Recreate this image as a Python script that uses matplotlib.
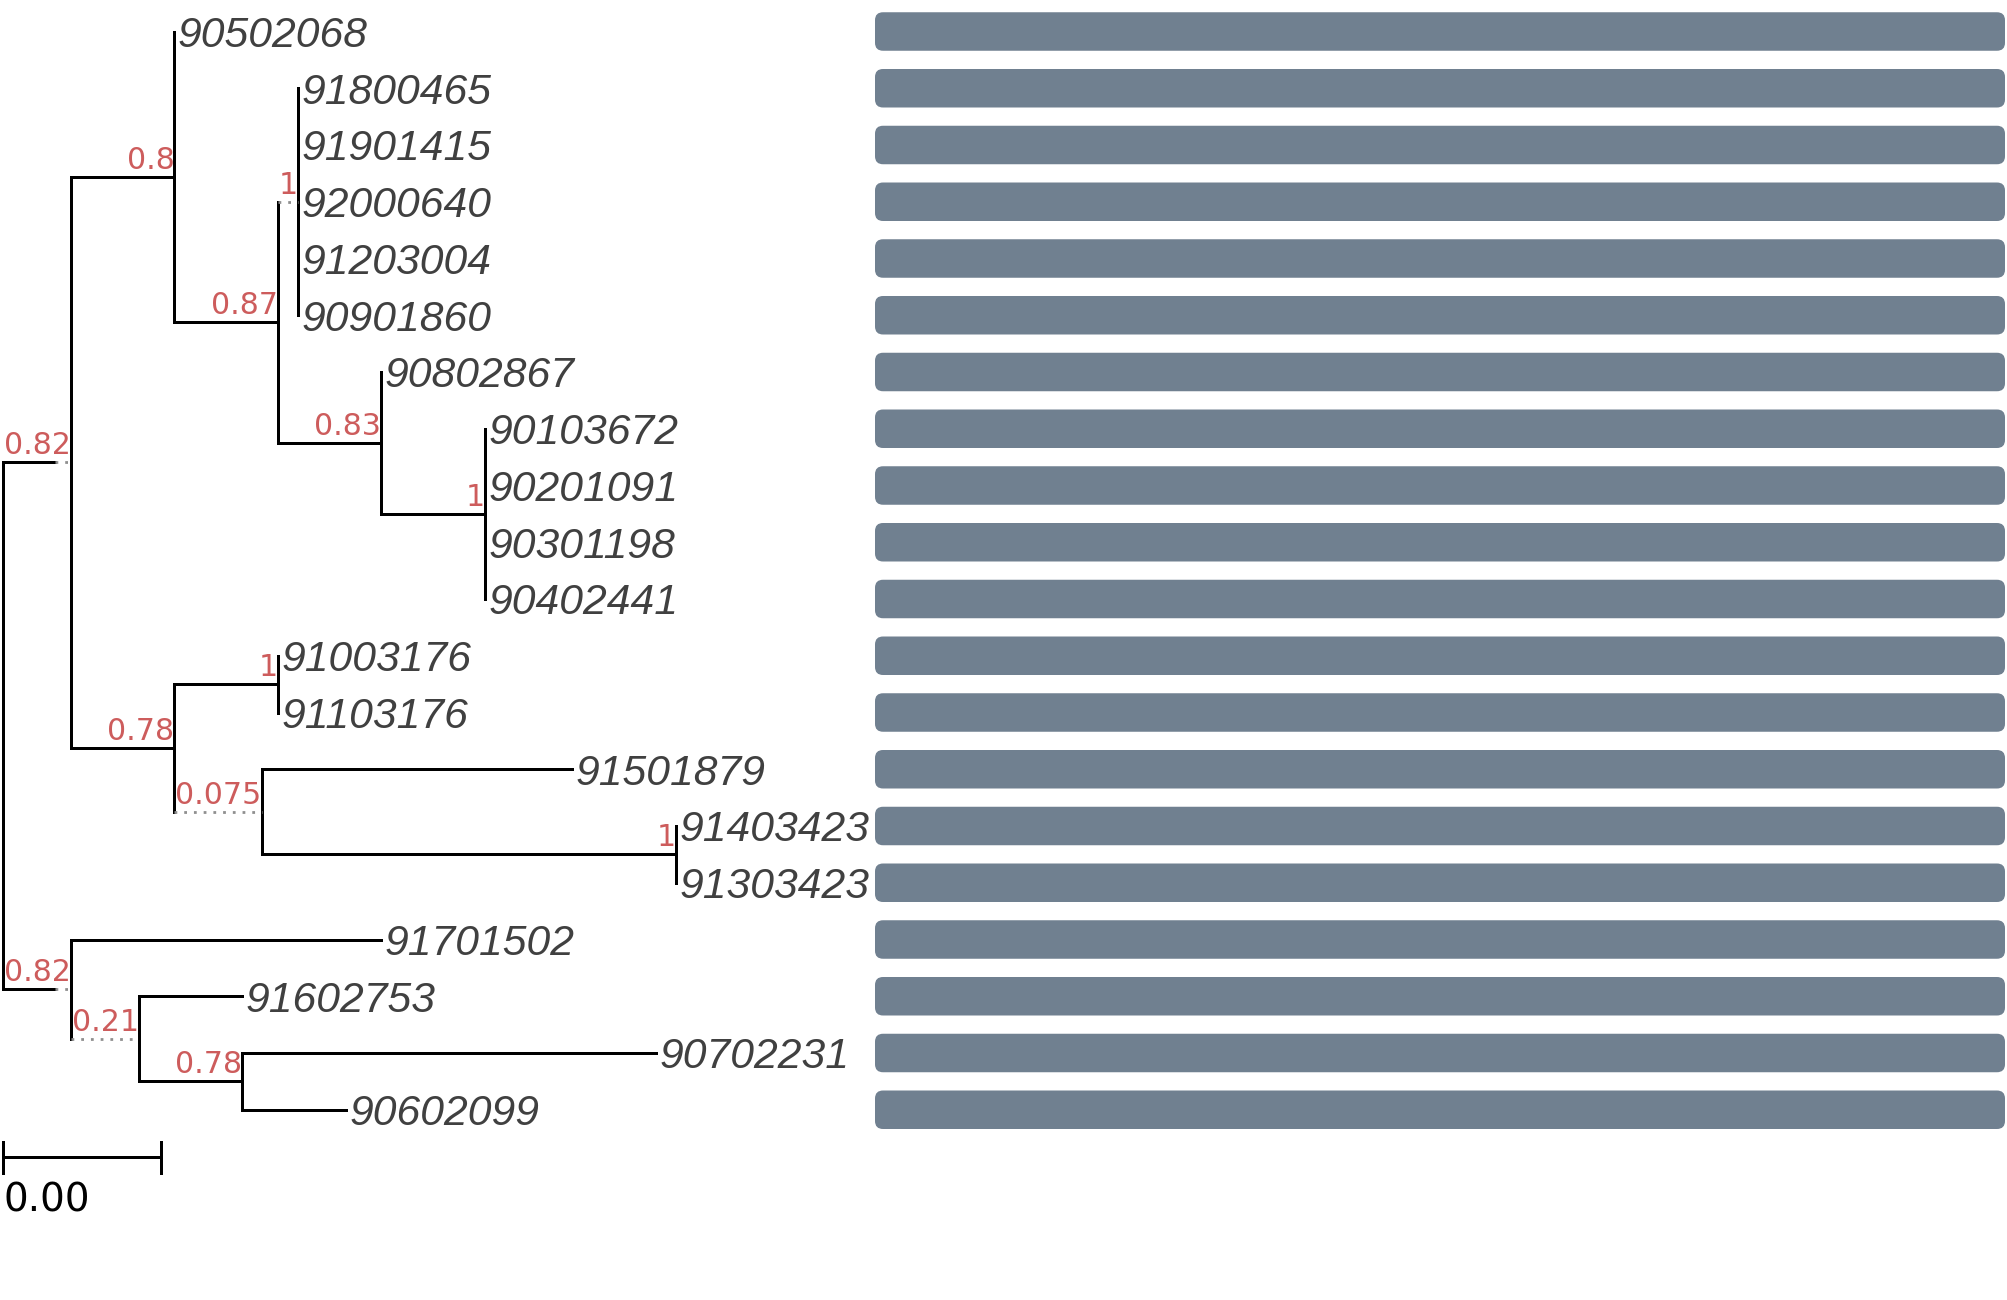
import matplotlib
matplotlib.use('Agg')
import matplotlib.pyplot as plt
from matplotlib.patches import FancyBboxPatch
from matplotlib.font_manager import FontProperties

# tree, listed in preorder (children top to bottom)
node_names = ['root', 'c1', 'c2', '90502068', 'c3', 'c4',
              '91800465', '91901415', '92000640', '91203004', '90901860',
              'c5', '90802867', 'c6',
              '90103672', '90201091', '90301198', '90402441',
              'c7', 'c8', '91003176', '91103176',
              'c9', '91501879', 'c10', '91403423', '91303423',
              'c11', '91701502', 'c12', '91602753', 'c13', '90702231', '90602099']
node_parents = [None, 'root', 'c1', 'c2', 'c2', 'c3',
                'c4', 'c4', 'c4', 'c4', 'c4',
                'c3', 'c5', 'c5',
                'c6', 'c6', 'c6', 'c6',
                'c1', 'c7', 'c8', 'c8',
                'c7', 'c9', 'c9', 'c10', 'c10',
                'root', 'c11', 'c11', 'c12', 'c12', 'c13', 'c13']
branch_lengths = [0, 0.0005, 0.001, 0, 0.001, 0,
                  0, 0, 0, 0, 0,
                  0.001, 0, 0.001,
                  0, 0, 0, 0,
                  0.001, 0.001, 0, 0,
                  0, 0.003, 0.004, 0, 0,
                  0.0005, 0.003, 0, 0.001, 0.001, 0.004, 0.001]
supports = [None, 0.82, 0.8, None, 0.87, 1,
            None, None, None, None, None,
            0.83, None, 1,
            None, None, None, None,
            0.78, 1, None, None,
            0.075, None, 1, None, None,
            0.82, None, 0.21, None, 0.78, None, None]

# the aligned bar next to each leaf (all full length)
bar_values = [1, 1, 1, 1, 1, 1, 1, 1, 1, 1, 1, 1, 1, 1, 1, 1, 1, 1, 1, 1]
bar_max = 1
scale_length = 0.00153

W, H = 2007, 1300
px_per_unit = 103500
root_x = 3
row_top, row_step = 31.5, 56.75
bar_x0, bar_w, bar_h = 875, 1130, 38.5
lw = 2.16

fig = plt.figure(figsize=(W / 100, H / 100), dpi=100)
ax = fig.add_axes([0, 0, 1, 1])
ax.set_xlim(0, W)
ax.set_ylim(H, 0)
ax.axis('off')

renderer = fig.canvas.get_renderer()
sup_font = FontProperties(family='DejaVu Sans', size=21.6)
tip_font = FontProperties(family='Liberation Sans', style='italic', size=30.7)

parent = dict(zip(node_names, node_parents))
blen = dict(zip(node_names, branch_lengths))
supp = dict(zip(node_names, supports))
children = {n: [] for n in node_names}
for n, p in zip(node_names, node_parents):
    if p is not None:
        children[p].append(n)
leaves = [n for n in node_names if not children[n]]

# x: solid branch, stretched with a dotted part if the support label is wider
x, solid_end = {}, {}
for n in node_names:
    p = parent[n]
    if p is None:
        x[n] = root_x
        continue
    bl_px = blen[n] * px_per_unit
    reach = bl_px
    if supp[n] is not None:
        w, h, d = renderer.get_text_width_height_descent('%g' % supp[n], sup_font, ismath=False)
        reach = max(bl_px, w + 1)
    solid_end[n] = x[p] + bl_px
    x[n] = x[p] + reach

y = {}
for i, n in enumerate(leaves):
    y[n] = row_top + i * row_step
for n in reversed(node_names):
    if children[n]:
        y[n] = (y[children[n][0]] + y[children[n][-1]]) / 2

for n in node_names:
    if children[n]:
        ax.plot([x[n], x[n]], [y[children[n][0]], y[children[n][-1]]], color='black', lw=lw)
    p = parent[n]
    if p is None:
        continue
    if solid_end[n] > x[p]:
        ax.plot([x[p], solid_end[n]], [y[n], y[n]], color='black', lw=lw)
    if x[n] > solid_end[n] + 0.5:
        ax.plot([solid_end[n], x[n]], [y[n], y[n]], color='#8f8f8f', lw=2.0,
                linestyle=(0, (1, 2.5)), dash_capstyle='butt')
    if supp[n] is not None:
        ax.text(x[n], y[n] - 8, '%g' % supp[n], fontproperties=sup_font,
                color='#cd5c5c', ha='right', va='baseline')

cap = 0.716 * 30.7 * 100 / 72
for n, val in zip(leaves, bar_values):
    ax.text(x[n] + 3.5, y[n] + cap / 2, n, fontproperties=tip_font,
            color='#404040', ha='left', va='baseline')
    ax.add_patch(FancyBboxPatch((bar_x0, y[n] - bar_h / 2), bar_w * val / bar_max, bar_h,
                                boxstyle='round,pad=0,rounding_size=8',
                                facecolor='#708090', edgecolor='none'))

# scale bar
sb_y = 1157
sb_x1 = root_x + scale_length * px_per_unit
ax.plot([root_x, sb_x1], [sb_y, sb_y], color='black', lw=lw)
ax.plot([root_x, root_x], [sb_y - 15.5, sb_y + 15.5], color='black', lw=lw)
ax.plot([sb_x1, sb_x1], [sb_y - 15.5, sb_y + 15.5], color='black', lw=lw)
ax.text(root_x + 1, 1211, '%.2f' % scale_length, family='DejaVu Sans', fontsize=28,
        color='black', ha='left', va='baseline')

fig.savefig('out.png', dpi=100)
